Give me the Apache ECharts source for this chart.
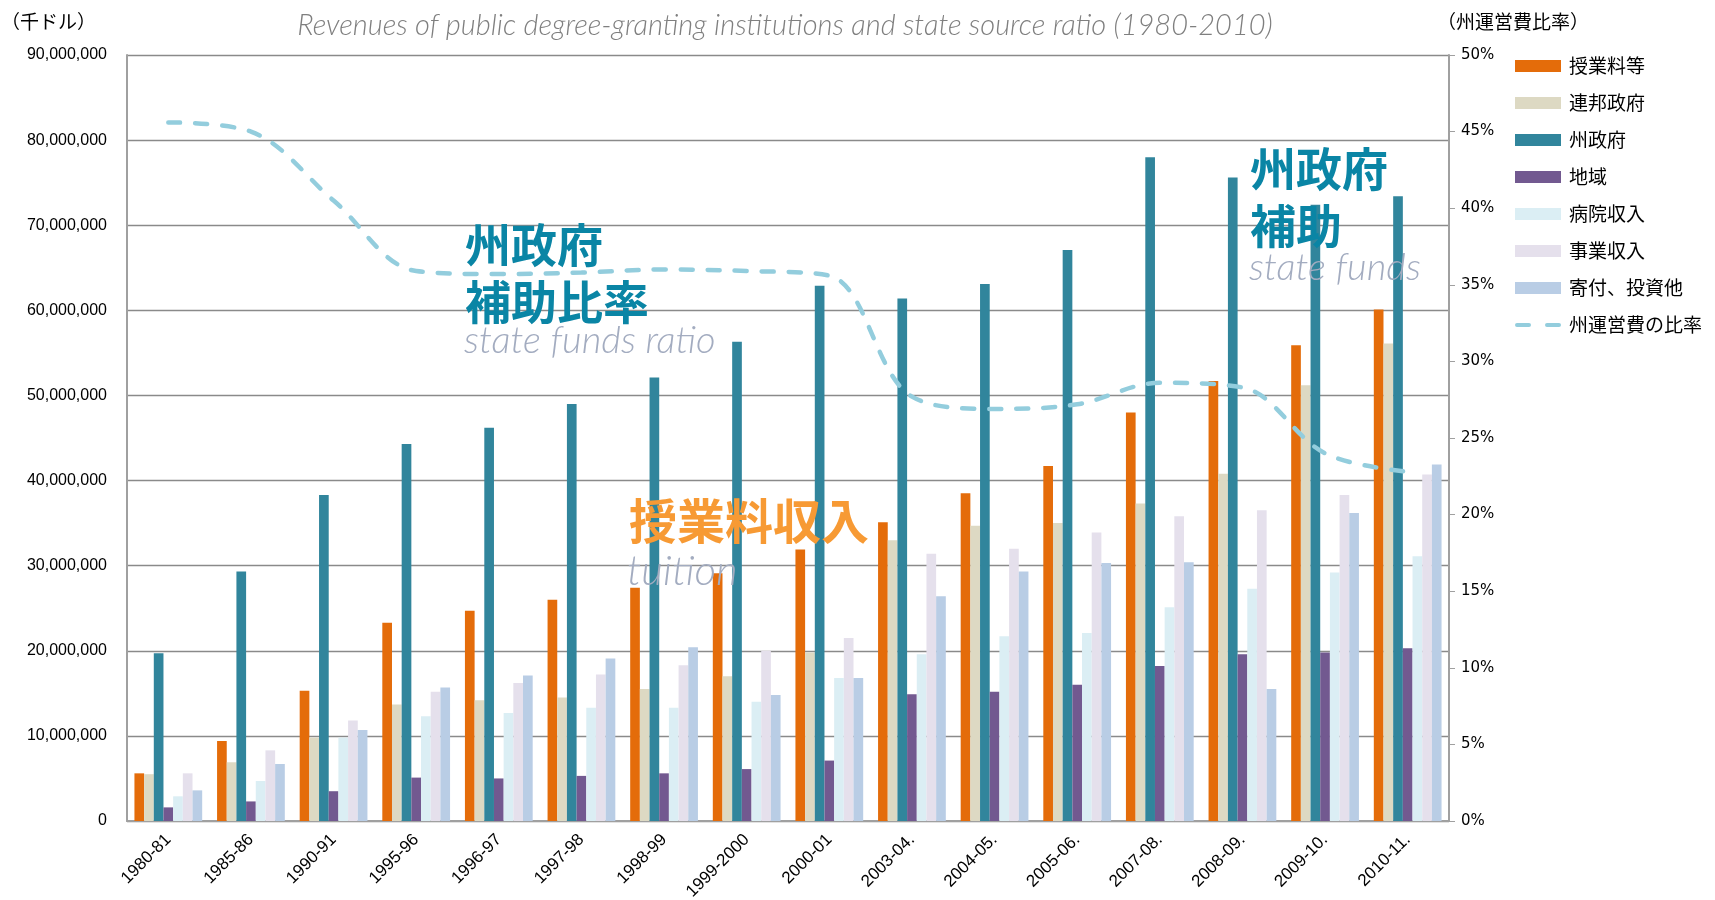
<!DOCTYPE html>
<html>
<head>
<meta charset="utf-8">
<script src="https://cdn.jsdelivr.net/npm/echarts@6/dist/echarts.min.js"></script>
<style>
  html, body { margin: 0; padding: 0; background: #fff; }
  #chart { width: 1715px; height: 900px; }
</style>
</head>
<body>
<div id="chart"></div>
<script>
// 年度
const years = ['1980-81', '1985-86', '1990-91', '1995-96', '1996-97', '1997-98', '1998-99', '1999-2000',
  '2000-01', '2003-04.', '2004-05.', '2005-06.', '2007-08.', '2008-09.', '2009-10.', '2010-11.'];

// 収入（千ドル）
const tuition   = [5600000, 9400000, 15300000, 23300000, 24700000, 26000000, 27400000, 29100000,
  31900000, 35100000, 38500000, 41700000, 48000000, 51700000, 55900000, 60100000];
const federal   = [5500000, 6900000, 9800000, 13700000, 14200000, 14500000, 15500000, 17000000,
  19800000, 33000000, 34700000, 35000000, 37300000, 40800000, 51200000, 56100000];
const state     = [19700000, 29300000, 38300000, 44300000, 46200000, 49000000, 52100000, 56300000,
  62900000, 61400000, 63100000, 67100000, 78000000, 75600000, 72400000, 73400000];
const local     = [1600000, 2300000, 3500000, 5100000, 5000000, 5300000, 5600000, 6100000,
  7100000, 14900000, 15200000, 16000000, 18200000, 19600000, 19800000, 20300000];
const hospital  = [2900000, 4700000, 9800000, 12300000, 12700000, 13300000, 13300000, 14000000,
  16800000, 19600000, 21700000, 22100000, 25100000, 27300000, 29200000, 31100000];
const business  = [5600000, 8300000, 11800000, 15200000, 16200000, 17200000, 18300000, 20000000,
  21500000, 31400000, 32000000, 33900000, 35800000, 36500000, 38300000, 40700000];
const gifts     = [3600000, 6700000, 10700000, 15700000, 17100000, 19100000, 20400000, 14800000,
  16800000, 26400000, 29300000, 30300000, 30400000, 15500000, 36200000, 41900000];

// 州運営費の比率（%）
const stateRatio = [45.6, 45.0, 40.5, 35.9, 35.7, 35.8, 36.0, 35.9,
  35.6, 27.7, 26.9, 27.2, 28.6, 28.3, 24.0, 22.8];

const chart = echarts.init(document.getElementById('chart'));

const barNames = ['授業料等', '連邦政府', '州政府', '地域', '病院収入', '事業収入', '寄付、投資他'];
const barData = [tuition, federal, state, local, hospital, business, gifts];
const barColors = ['#e46c0a', '#ddd9c3', '#31859c', '#725990', '#dbeef4', '#e5e0ec', '#b9cde5'];
const lineColor = '#93cddd';

const series = barNames.map((name, i) => ({
  name: name,
  type: 'bar',
  yAxisIndex: 0,
  barGap: '0%',
  barCategoryGap: '18%',
  itemStyle: { color: barColors[i] },
  data: barData[i]
}));

series.push({
  name: '州運営費の比率',
  type: 'line',
  yAxisIndex: 1,
  smooth: 0.35,
  symbol: 'none',
  lineStyle: { color: lineColor, width: 4.5, type: [12, 15], cap: 'round' },
  itemStyle: { color: lineColor },
  z: 5,
  data: stateRatio
});

const cjk = '"Noto Sans CJK JP", sans-serif';
const narrow = '"Liberation Sans Narrow", "Liberation Sans", sans-serif';
const handFont = 'italic 300 38px Lato, "DejaVu Sans", sans-serif';

chart.setOption({
  animation: false,
  title: {
    text: 'Revenues of public degree-granting institutions and state source ratio (1980-2010)',
    left: 780,
    textAlign: 'center',
    top: 6,
    textStyle: {
      fontFamily: 'Lato, sans-serif',
      fontStyle: 'italic',
      fontWeight: 300,
      fontSize: 29,
      color: '#7f7f7f'
    }
  },
  grid: { left: 127, right: 266, top: 55, bottom: 79, outerBoundsMode: 'none' },
  legend: {
    orient: 'vertical',
    left: 1510,
    top: 50,
    itemWidth: 46,
    itemHeight: 12,
    itemGap: 15,
    textStyle: {
      fontFamily: cjk,
      fontSize: 19,
      lineHeight: 22,
      color: '#000',
      padding: [0, 0, 0, 3]
    },
    data: barNames.map(n => ({ name: n, icon: 'rect' })).concat([{
      name: '州運営費の比率',
      icon: 'path://M2,0h12a2,2 0 0 1 0,4h-12a2,2 0 0 1 0,-4z M32,0h12a2,2 0 0 1 0,4h-12a2,2 0 0 1 0,-4z',
      itemStyle: { color: lineColor }
    }])
  },
  xAxis: {
    type: 'category',
    data: years,
    axisLine: { lineStyle: { color: '#a0a0a0', width: 2 } },
    axisTick: { show: false },
    axisLabel: {
      rotate: 45,
      interval: 0,
      margin: 16,
      fontFamily: narrow,
      fontSize: 17,
      color: '#000'
    }
  },
  yAxis: [
    {
      type: 'value',
      min: 0,
      max: 90000000,
      interval: 10000000,
      name: '（千ドル）',
      nameLocation: 'end',
      nameGap: 24,
      nameTextStyle: {
        fontFamily: cjk,
        fontSize: 19,
        color: '#000',
        align: 'left',
        padding: [0, 0, 0, -126]
      },
      axisLine: { show: true, lineStyle: { color: '#a0a0a0', width: 2 } },
      axisTick: { show: false },
      axisLabel: {
        margin: 20,
        fontFamily: narrow,
        fontSize: 16,
        color: '#000',
        formatter: v => v.toLocaleString('en-US')
      },
      splitLine: { lineStyle: { color: '#8a8a8a', width: 1.3 } }
    },
    {
      type: 'value',
      min: 0,
      max: 50,
      interval: 5,
      position: 'right',
      name: '（州運営費比率）',
      nameLocation: 'end',
      nameGap: 24,
      nameTextStyle: {
        fontFamily: cjk,
        fontSize: 19,
        color: '#000',
        align: 'left',
        padding: [0, 0, 0, -12]
      },
      axisLine: { show: true, lineStyle: { color: '#a0a0a0', width: 2 } },
      axisTick: { show: true, inside: false, length: 6, lineStyle: { color: '#a0a0a0' } },
      axisLabel: {
        margin: 12,
        fontFamily: '"DejaVu Sans", sans-serif',
        fontSize: 15,
        color: '#000',
        formatter: '{value}%'
      },
      splitLine: { show: false }
    }
  ],
  graphic: [
    {
      type: 'text', left: 465, top: 216, z: 100,
      style: {
        text: '州政府\n補助比率',
        font: 'bold 46px ' + cjk,
        lineHeight: 57,
        fill: '#0a85a5'
      }
    },
    {
      type: 'text', left: 464, top: 322, z: 100,
      style: { text: 'state funds ratio', font: handFont, fill: '#a3acc0' }
    },
    {
      type: 'text', left: 629, top: 497, z: 100,
      style: {
        text: '授業料収入',
        font: 'bold 48px ' + cjk,
        fill: '#f79a34'
      }
    },
    {
      type: 'text', left: 627, top: 550, z: 100,
      style: { text: 'tuition', font: 'italic 300 42px Lato, "DejaVu Sans", sans-serif', fill: '#a3acc0' }
    },
    {
      type: 'text', left: 1250, top: 140, z: 100,
      style: {
        text: '州政府\n補助',
        font: 'bold 46px ' + cjk,
        lineHeight: 57,
        fill: '#0a85a5'
      }
    },
    {
      type: 'text', left: 1249, top: 249, z: 100,
      style: { text: 'state funds', font: handFont, fill: '#a3acc0' }
    }
  ],
  series: series
});
</script>
</body>
</html>
